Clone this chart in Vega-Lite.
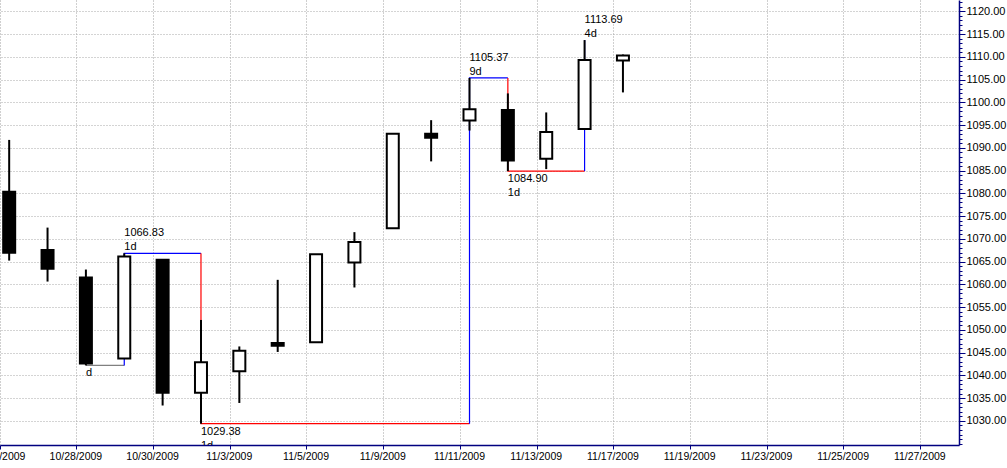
{
  "$schema": "https://vega.github.io/schema/vega-lite/v6.json",
  "width": 959,
  "height": 445,
  "autosize": {"type": "none"},
  "padding": {"left": 0, "top": 0, "right": 48, "bottom": 23},
  "background": "white",
  "config": {"view": {"stroke": null}, "font": "Liberation Sans"},
  "datasets": {
    "candles": [
      {"date": "10/26/2009", "open": 1080.36, "high": 1091.75, "low": 1065.23, "close": 1066.95},
      {"date": "10/27/2009", "open": 1067.54, "high": 1072.48, "low": 1060.62, "close": 1063.41},
      {"date": "10/28/2009", "open": 1061.51, "high": 1063.26, "low": 1042.19, "close": 1042.63},
      {"date": "10/29/2009", "open": 1043.69, "high": 1066.83, "low": 1043.69, "close": 1066.11},
      {"date": "10/30/2009", "open": 1065.41, "high": 1065.41, "low": 1033.38, "close": 1036.19},
      {"date": "11/2/2009", "open": 1036.18, "high": 1052.18, "low": 1029.38, "close": 1042.88},
      {"date": "11/3/2009", "open": 1040.92, "high": 1046.36, "low": 1033.94, "close": 1045.41},
      {"date": "11/4/2009", "open": 1047.14, "high": 1061.0, "low": 1045.15, "close": 1046.5},
      {"date": "11/5/2009", "open": 1047.3, "high": 1066.65, "low": 1047.3, "close": 1066.63},
      {"date": "11/6/2009", "open": 1064.81, "high": 1071.48, "low": 1059.32, "close": 1069.3},
      {"date": "11/9/2009", "open": 1072.31, "high": 1093.19, "low": 1072.31, "close": 1093.08},
      {"date": "11/10/2009", "open": 1093.1, "high": 1096.09, "low": 1087.03, "close": 1092.2},
      {"date": "11/11/2009", "open": 1096.04, "high": 1105.37, "low": 1093.81, "close": 1098.51},
      {"date": "11/12/2009", "open": 1098.31, "high": 1101.97, "low": 1084.9, "close": 1087.24},
      {"date": "11/13/2009", "open": 1087.59, "high": 1097.79, "low": 1085.33, "close": 1093.48},
      {"date": "11/16/2009", "open": 1094.13, "high": 1113.69, "low": 1094.13, "close": 1109.3},
      {"date": "11/17/2009", "open": 1109.22, "high": 1110.52, "low": 1102.19, "close": 1110.32}
    ],
    "zigzag": [
      {"seg": "a", "pt": 1, "dir": "start", "date": "10/28/2009", "price": 1042.19},
      {"seg": "a", "pt": 2, "dir": "start", "date": "10/29/2009", "price": 1042.19},
      {"seg": "b", "pt": 1, "dir": "up", "date": "10/29/2009", "price": 1042.19},
      {"seg": "b", "pt": 2, "dir": "up", "date": "10/29/2009", "price": 1066.83},
      {"seg": "b", "pt": 3, "dir": "up", "date": "11/2/2009", "price": 1066.83},
      {"seg": "c", "pt": 1, "dir": "down", "date": "11/2/2009", "price": 1066.83},
      {"seg": "c", "pt": 2, "dir": "down", "date": "11/2/2009", "price": 1029.38},
      {"seg": "c", "pt": 3, "dir": "down", "date": "11/11/2009", "price": 1029.38},
      {"seg": "d", "pt": 1, "dir": "up", "date": "11/11/2009", "price": 1029.38},
      {"seg": "d", "pt": 2, "dir": "up", "date": "11/11/2009", "price": 1105.37},
      {"seg": "d", "pt": 3, "dir": "up", "date": "11/12/2009", "price": 1105.37},
      {"seg": "e", "pt": 1, "dir": "down", "date": "11/12/2009", "price": 1105.37},
      {"seg": "e", "pt": 2, "dir": "down", "date": "11/12/2009", "price": 1084.9},
      {"seg": "e", "pt": 3, "dir": "down", "date": "11/16/2009", "price": 1084.9},
      {"seg": "f", "pt": 1, "dir": "up", "date": "11/16/2009", "price": 1084.9},
      {"seg": "f", "pt": 2, "dir": "up", "date": "11/16/2009", "price": 1113.69}
    ],
    "pivots": [
      {"date": "10/28/2009", "price": 1042.19, "kind": "low", "label": "d"},
      {"date": "10/29/2009", "price": 1066.83, "kind": "high", "label": "1066.83\n1d"},
      {"date": "11/2/2009", "price": 1029.38, "kind": "low", "label": "1029.38\n1d"},
      {"date": "11/11/2009", "price": 1105.37, "kind": "high", "label": "1105.37\n9d"},
      {"date": "11/12/2009", "price": 1084.9, "kind": "low", "label": "1084.90\n1d"},
      {"date": "11/16/2009", "price": 1113.69, "kind": "high", "label": "1113.69\n4d"}
    ]
  },
  "encoding": {
    "x": {
      "field": "date",
      "type": "ordinal",
      "scale": {
        "domain": ["10/26/2009", "10/27/2009", "10/28/2009", "10/29/2009", "10/30/2009", "11/2/2009", "11/3/2009", "11/4/2009", "11/5/2009", "11/6/2009", "11/9/2009", "11/10/2009", "11/11/2009", "11/12/2009", "11/13/2009", "11/16/2009", "11/17/2009", "11/18/2009", "11/19/2009", "11/20/2009", "11/23/2009", "11/24/2009", "11/25/2009", "11/26/2009", "11/27/2009"],
        "paddingInner": 0,
        "paddingOuter": 0
      },
      "axis": {
        "orient": "bottom",
        "title": null,
        "values": ["10/26/2009", "10/28/2009", "10/30/2009", "11/3/2009", "11/5/2009", "11/9/2009", "11/11/2009", "11/13/2009", "11/17/2009", "11/19/2009", "11/23/2009", "11/25/2009", "11/27/2009"],
        "bandPosition": 0,
        "labelAngle": 0,
        "labelAlign": "center",
        "labelOffset": -20,
        "labelFontSize": 10.5,
        "labelColor": "black",
        "labelPadding": 2,
        "labelOverlap": false,
        "labelBound": false,
        "labelFlush": false,
        "tickSize": 4,
        "tickColor": "#000080",
        "domainColor": "#000080",
        "domainWidth": 1.5,
        "grid": true,
        "gridColor": "#a0a0a0",
        "gridDash": [1, 2]
      }
    }
  },
  "layer": [
    {
      "data": {"name": "zigzag"},
      "mark": {"type": "line", "strokeWidth": 1.2, "xOffset": -10},
      "encoding": {
        "y": {
          "field": "price",
          "type": "quantitative",
          "scale": {"domain": [1024.7, 1122.5], "nice": false, "zero": false},
          "axis": {
            "orient": "right",
            "title": null,
            "tickCount": 200,
            "values": [1025, 1026, 1027, 1028, 1029, 1030, 1031, 1032, 1033, 1034, 1035, 1036, 1037, 1038, 1039, 1040, 1041, 1042, 1043, 1044, 1045, 1046, 1047, 1048, 1049, 1050, 1051, 1052, 1053, 1054, 1055, 1056, 1057, 1058, 1059, 1060, 1061, 1062, 1063, 1064, 1065, 1066, 1067, 1068, 1069, 1070, 1071, 1072, 1073, 1074, 1075, 1076, 1077, 1078, 1079, 1080, 1081, 1082, 1083, 1084, 1085, 1086, 1087, 1088, 1089, 1090, 1091, 1092, 1093, 1094, 1095, 1096, 1097, 1098, 1099, 1100, 1101, 1102, 1103, 1104, 1105, 1106, 1107, 1108, 1109, 1110, 1111, 1112, 1113, 1114, 1115, 1116, 1117, 1118, 1119, 1120, 1121, 1122],
            "labelExpr": "datum.value % 5 === 0 && datum.value >= 1030 ? format(datum.value, '.2f') : ''",
            "labelFontSize": 11,
            "labelColor": "black",
            "labelPadding": 1,
            "labelOverlap": false,
            "labelBound": false,
            "labelFlush": false,
            "tickColor": "#000080",
            "tickSize": {"condition": {"test": "datum.value % 5 === 0 && datum.value >= 1030", "value": 6}, "value": 3},
            "domainColor": "#000080",
            "domainWidth": 1.5,
            "grid": true,
            "gridDash": [1, 2],
            "gridColor": {"condition": {"test": "datum.value % 5 === 0 && datum.value >= 1030", "value": "#a8a8a8"}, "value": "transparent"}
          }
        },
        "detail": {"field": "seg"},
        "order": {"field": "pt"},
        "color": {
          "field": "dir",
          "type": "nominal",
          "scale": {"domain": ["start", "up", "down"], "range": ["#808080", "#0000ff", "#ff0000"]},
          "legend": null
        }
      }
    },
    {
      "data": {"name": "candles"},
      "mark": {"type": "rule", "strokeWidth": 2, "color": "black", "xOffset": -10},
      "encoding": {
        "y": {"field": "low", "type": "quantitative"},
        "y2": {"field": "high"}
      }
    },
    {
      "data": {"name": "candles"},
      "mark": {"type": "bar", "width": 12, "xOffset": -10, "stroke": "black", "strokeWidth": 2},
      "encoding": {
        "y": {"field": "open", "type": "quantitative"},
        "y2": {"field": "close"},
        "fill": {"condition": {"test": "datum.close > datum.open", "value": "white"}, "value": "black"}
      }
    },
    {
      "data": {"name": "pivots"},
      "transform": [{"filter": "datum.kind === 'high'"}],
      "mark": {"type": "text", "align": "left", "baseline": "bottom", "dy": -15, "xOffset": -10, "fontSize": 11, "lineBreak": "\n", "lineHeight": 14, "color": "black"},
      "encoding": {
        "y": {"field": "price", "type": "quantitative"},
        "text": {"field": "label"}
      }
    },
    {
      "data": {"name": "pivots"},
      "transform": [{"filter": "datum.kind === 'low'"}],
      "mark": {"type": "text", "align": "left", "baseline": "top", "dy": 2, "xOffset": -10, "fontSize": 11, "lineBreak": "\n", "lineHeight": 14, "color": "black", "clip": true},
      "encoding": {
        "y": {"field": "price", "type": "quantitative"},
        "text": {"field": "label"}
      }
    }
  ]
}
